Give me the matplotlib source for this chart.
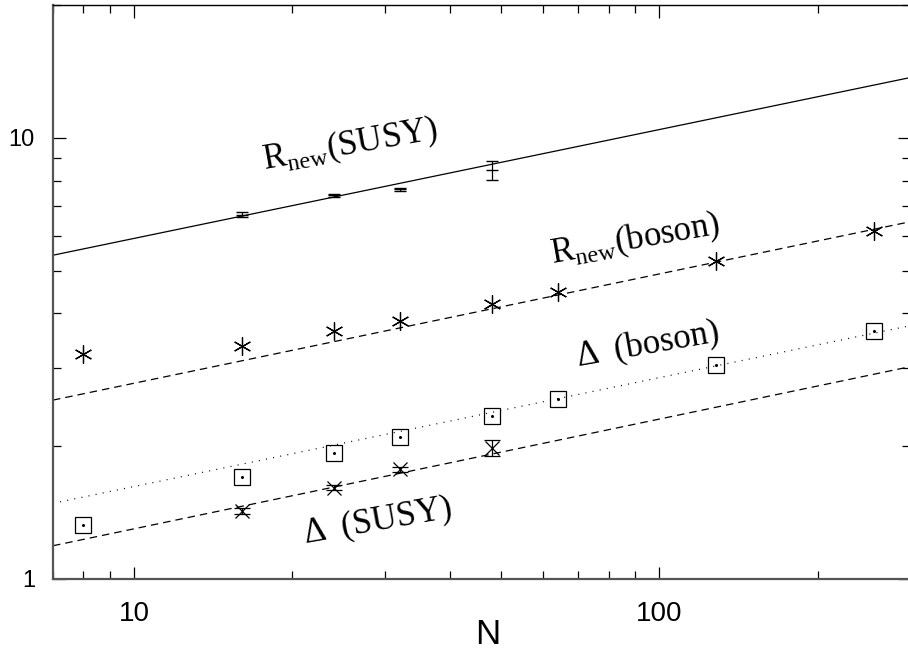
import numpy as np
import matplotlib
matplotlib.use("Agg")
import matplotlib.pyplot as plt
from matplotlib.ticker import LogLocator, NullFormatter, FixedLocator, FixedFormatter

# lattice sizes
n_susy = [16, 24, 32, 48]
n_boson = [8, 16, 24, 32, 48, 64, 128, 256]

# R_new for the SUSY model, with errors
r_susy = [6.70, 7.41, 7.65, 8.45]
r_susy_err = [0.10, 0.06, 0.06, 0.43]

# R_new for the boson model
r_boson = [3.23, 3.37, 3.64, 3.85, 4.20, 4.46, 5.25, 6.15]

# gap for the boson model
gap_boson = [1.323, 1.696, 1.930, 2.10, 2.34, 2.555, 3.06, 3.64]

# gap for the SUSY model, with errors
gap_susy = [1.423, 1.607, 1.769, 1.98]
gap_susy_err = [0.02, 0.02, 0.02, 0.08]

# power-law fits A * N**b
fit_r_susy = (3.35, 0.247)
fit_r_boson = (1.568, 0.248)
fit_gap_boson = (0.916, 0.247)
fit_gap_susy = (0.731, 0.249)

plt.rcParams["mathtext.fontset"] = "custom"
plt.rcParams["mathtext.rm"] = "Liberation Serif"

W, H = 908, 661
fig = plt.figure(figsize=(W / 100, H / 100), dpi=100)
ax = fig.add_axes([53 / W, 1 - 578.5 / H, 857 / W, 573.2 / H])
ax.set_xscale("log")
ax.set_yscale("log")
ax.set_xlim(7, 300)
ax.set_ylim(1, 20)

grid = np.geomspace(7, 300, 200)


def fit_line(params, **kw):
    a, b = params
    ax.plot(grid, a * grid ** b, color="black", lw=0.9, **kw)


fit_line(fit_r_susy, ls="-")
fit_line(fit_r_boson, ls=(0, (6, 4)))
fit_line(fit_gap_boson, ls=(0, (0.8, 5)))
fit_line(fit_gap_susy, ls=(0, (6, 4)))

ax.errorbar(n_susy, r_susy, yerr=r_susy_err, fmt="_", color="black",
            ms=8, mew=1.0, elinewidth=0.9, capsize=4, capthick=0.9)
ax.plot(n_boson, r_boson, ls="none", marker=(6, 2, 0), ms=13,
        mec="black", mew=0.9)
ax.plot(n_boson, gap_boson, ls="none", marker="s", ms=11.5,
        mfc="none", mec="black", mew=0.9)
ax.plot(n_boson, gap_boson, ls="none", marker="o", ms=1.2, color="black")
ax.errorbar(n_susy, gap_susy, yerr=gap_susy_err, fmt="x", color="black",
            ms=10, mew=0.9, elinewidth=0.9, capsize=6, capthick=0.9)

# axes frame and ticks
for side in ("left", "bottom"):
    ax.spines[side].set_color("#555555")
    ax.spines[side].set_linewidth(1.6)
for side in ("top", "right"):
    ax.spines[side].set_linewidth(1.0)

ax.tick_params(which="both", direction="in", top=True, right=True,
               width=0.9, colors="black")
ax.tick_params(which="major", length=9)
ax.tick_params(which="minor", length=6)
ax.tick_params(axis="x", which="major", pad=16, labelsize=20)
ax.tick_params(axis="y", which="major", pad=13, labelsize=17)

ax.xaxis.set_major_locator(FixedLocator([10, 100]))
ax.xaxis.set_major_formatter(FixedFormatter(["10", "100"]))
ax.xaxis.set_minor_locator(LogLocator(base=10, subs=np.arange(2, 10)))
ax.xaxis.set_minor_formatter(NullFormatter())
ax.yaxis.set_major_locator(FixedLocator([1, 10]))
ax.yaxis.set_major_formatter(FixedFormatter(["1", "10"]))
ax.yaxis.set_minor_locator(LogLocator(base=10, subs=np.arange(2, 10)))
ax.yaxis.set_minor_formatter(NullFormatter())
for lab in ax.get_xticklabels() + ax.get_yticklabels():
    lab.set_family(["Liberation Sans", "DejaVu Sans"])

fig.text(488 / W, 1 - 634 / H, "N", ha="center", va="center",
         fontsize=25, family=["Liberation Sans", "DejaVu Sans"])

# curve labels
serif = ["Liberation Serif", "DejaVu Serif"]
labels = [
    (350, 145, r"R$_{\mathregular{new}}$(SUSY)"),
    (635, 240, r"R$_{\mathregular{new}}$(boson)"),
    (648, 345, "Δ  (boson)"),
    (378, 521, "Δ  (SUSY)"),
]
for px, py, txt in labels:
    fig.text(px / W, 1 - py / H, txt, ha="center", va="center",
             rotation=10, rotation_mode="anchor", fontsize=25, family=serif)

fig.savefig("out.png", dpi=100)
